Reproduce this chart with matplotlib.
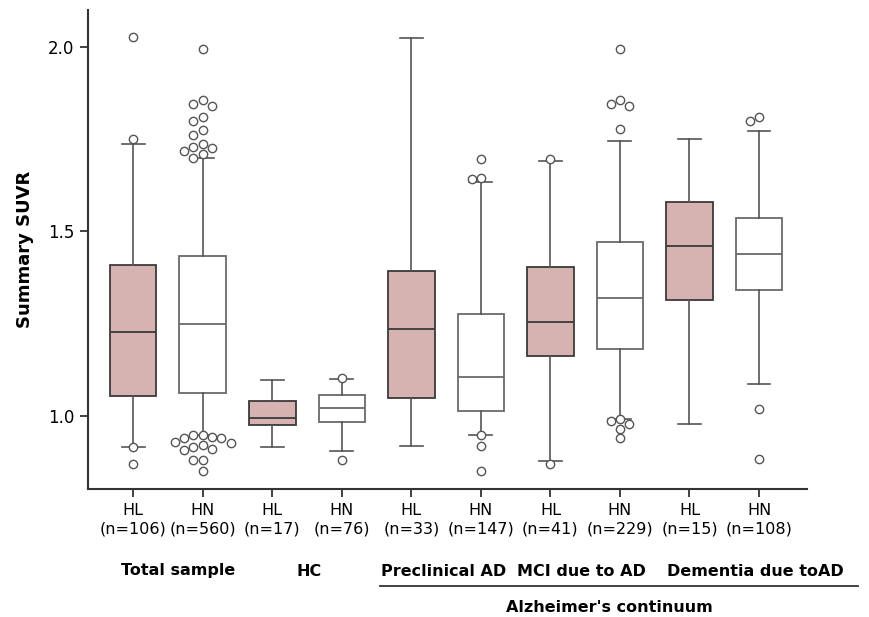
import numpy as np
import matplotlib
matplotlib.use("Agg")
import matplotlib.pyplot as plt

# summary statistics
groups = ["HL", "HN", "HL", "HN", "HL", "HN", "HL", "HN", "HL", "HN"]
n_counts = [106, 560, 17, 76, 33, 147, 41, 229, 15, 108]
whislo = [0.917, 0.948, 0.917, 0.906, 0.919, 0.948, 0.878, 0.991, 0.979, 1.087]
q1 = [1.055, 1.061, 0.974, 0.983, 1.049, 1.013, 1.162, 1.182, 1.314, 1.340]
med = [1.226, 1.248, 0.995, 1.021, 1.236, 1.104, 1.255, 1.320, 1.461, 1.437]
q3 = [1.408, 1.434, 1.040, 1.056, 1.393, 1.275, 1.403, 1.470, 1.580, 1.535]
whishi = [1.736, 1.697, 1.096, 1.100, 2.024, 1.634, 1.691, 1.745, 1.750, 1.772]
outliers = [
    [2.025, 1.750, 0.917, 0.869],
    [1.994, 1.856, 1.844, 1.839, 1.809, 1.799, 1.774, 1.761, 1.736, 1.728,
     1.724, 1.716, 1.709, 1.697,
     0.948, 0.948, 0.944, 0.939, 0.939, 0.930, 0.926, 0.920, 0.917, 0.911,
     0.908, 0.881, 0.881, 0.851],
    [],
    [1.102, 0.881],
    [],
    [1.696, 1.644, 1.641, 0.948, 0.919, 0.851],
    [1.695, 0.869],
    [1.994, 1.856, 1.845, 1.840, 1.776, 0.991, 0.986, 0.977, 0.965, 0.940],
    [],
    [1.809, 1.799, 1.018, 0.882],
]
highlight = [True, False] * 5

group_titles = ["Total sample", "HC", "Preclinical AD", "MCI due to AD", "Dementia due toAD"]
group_title_px = [178, 309, 444, 581, 755]
super_title = "Alzheimer's continuum"

PINK = "#d6b2b1"
W, H = 870, 617

fig = plt.figure(figsize=(W / 100, H / 100), dpi=100)
ax = fig.add_axes([88 / W, 128 / H, (807 - 88) / W, (489 - 10) / H])

pos = np.arange(1, len(groups) + 1)
stats = []
for i in range(len(groups)):
    stats.append(dict(med=med[i], q1=q1[i], q3=q3[i], whislo=whislo[i], whishi=whishi[i], fliers=[]))

for i, st in enumerate(stats):
    dark = highlight[i]
    edge = "#3a3a3a" if dark else "#6a6a6a"
    ax.bxp([st], positions=[pos[i]], widths=0.67, capwidths=0.33, patch_artist=True,
           showfliers=False,
           boxprops=dict(facecolor=PINK if dark else "white", edgecolor=edge, linewidth=1.3),
           medianprops=dict(color=edge, linewidth=1.3),
           whiskerprops=dict(color="#555555", linewidth=1.2),
           capprops=dict(color="#555555", linewidth=1.2))

ax.set_xlim(0.35, 10.69)
ax.set_ylim(0.802, 2.099)

# spread overlapping outliers sideways (like the original software does)
step_px = 9.3
min_d = 8.6
x_per_px = (10.69 - 0.35) / ((807 - 88))
for i, vals in enumerate(outliers):
    placed = []
    for v in vals:
        y_px = ax.transData.transform((pos[i], v))[1]
        order = [0]
        for j in range(1, 8):
            order += [-j, j]
        for k in order:
            x_off = k * step_px
            ok = all((x_off - px) ** 2 + (y_px - py) ** 2 >= min_d ** 2 for px, py in placed)
            if ok:
                break
        placed.append((x_off, y_px))
        ax.plot(pos[i] + x_off * x_per_px, v, marker="o", ms=6, mfc="white",
                mec="#555555", mew=1.0, ls="none", zorder=5)

ax.spines["top"].set_visible(False)
ax.spines["right"].set_visible(False)
for s in ["left", "bottom"]:
    ax.spines[s].set_linewidth(1.5)
    ax.spines[s].set_color("#333333")

ax.set_yticks([1.0, 1.5, 2.0])
ax.set_yticklabels(["1.0", "1.5", "2.0"], fontsize=12)
ax.set_xticks(pos)
ax.set_xticklabels([f"{g}\n(n={n})" for g, n in zip(groups, n_counts)], fontsize=11.5, linespacing=1.3)
ax.tick_params(axis="both", length=6, width=1.3, color="#333333", pad=4)
ax.set_ylabel("Summary SUVR", fontsize=13, fontweight="bold", labelpad=10)

for t, px in zip(group_titles, group_title_px):
    fig.text(px / W, 1 - 571 / H, t, ha="center", va="center", fontsize=11.5, fontweight="bold")
fig.add_artist(plt.Line2D([380 / W, 858 / W], [1 - 586 / H, 1 - 586 / H], color="#333333", lw=1.3))
fig.text(609 / W, 1 - 607 / H, super_title, ha="center", va="center", fontsize=11.5, fontweight="bold")

fig.savefig("out.png", dpi=100)
